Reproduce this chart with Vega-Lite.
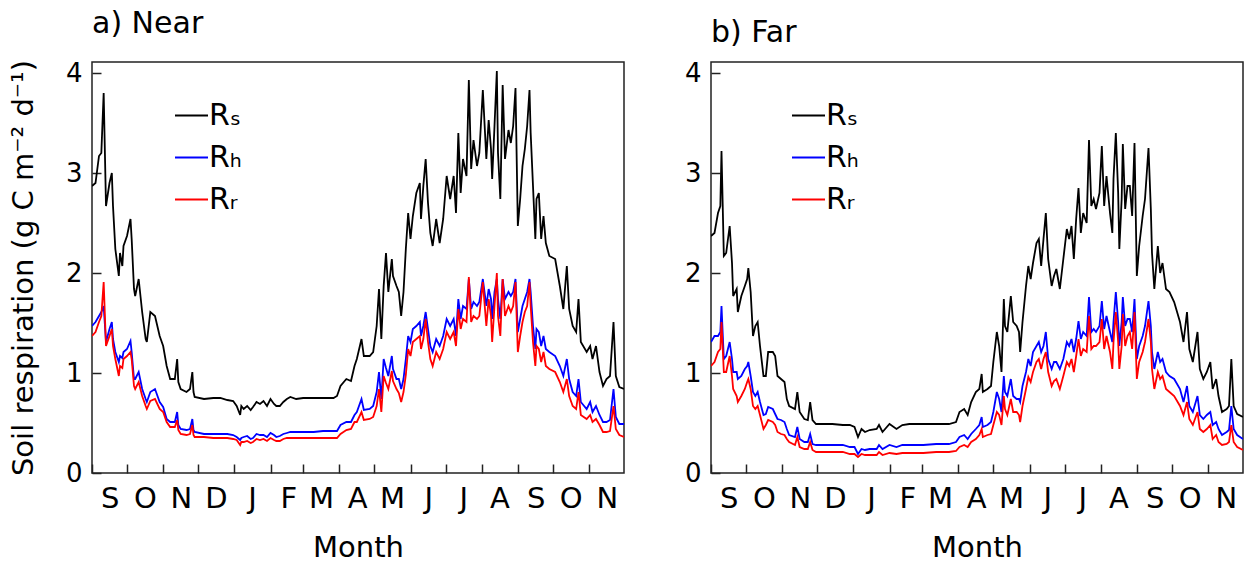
{
"$schema": "https://vega.github.io/schema/vega-lite/v6.json",
"background": "white",
"padding": {"left": 8, "top": 8, "right": 5, "bottom": 0},
"data": {"values": [
{"p":"a","t":"2013-09-01","s":2.87,"h":1.47,"r":1.37},
{"p":"a","t":"2013-09-04","s":2.90,"h":1.51,"r":1.41},
{"p":"a","t":"2013-09-07","s":3.17,"h":1.57,"r":1.51},
{"p":"a","t":"2013-09-09","s":3.20,"h":1.61,"r":1.57},
{"p":"a","t":"2013-09-11","s":3.80,"h":1.67,"r":1.91},
{"p":"a","t":"2013-09-13","s":2.67,"h":1.31,"r":1.27},
{"p":"a","t":"2013-09-16","s":2.90,"h":1.44,"r":1.37},
{"p":"a","t":"2013-09-18","s":3.00,"h":1.51,"r":1.44},
{"p":"a","t":"2013-09-19","s":2.67,"h":1.34,"r":1.27},
{"p":"a","t":"2013-09-21","s":2.24,"h":1.21,"r":1.14},
{"p":"a","t":"2013-09-24","s":1.97,"h":1.11,"r":0.97},
{"p":"a","t":"2013-09-25","s":2.20,"h":1.17,"r":1.07},
{"p":"a","t":"2013-09-27","s":2.07,"h":1.15,"r":1.05},
{"p":"a","t":"2013-09-28","s":2.27,"h":1.21,"r":1.14},
{"p":"a","t":"2013-10-01","s":2.37,"h":1.24,"r":1.17},
{"p":"a","t":"2013-10-04","s":2.54,"h":1.32,"r":1.21},
{"p":"a","t":"2013-10-05","s":2.34,"h":1.21,"r":1.14},
{"p":"a","t":"2013-10-07","s":1.84,"h":0.94,"r":0.87},
{"p":"a","t":"2013-10-08","s":1.77,"h":0.94,"r":0.84},
{"p":"a","t":"2013-10-11","s":1.94,"h":1.01,"r":0.91},
{"p":"a","t":"2013-10-14","s":1.61,"h":0.84,"r":0.77},
{"p":"a","t":"2013-10-17","s":1.34,"h":0.74,"r":0.67},
{"p":"a","t":"2013-10-18","s":1.31,"h":0.71,"r":0.64},
{"p":"a","t":"2013-10-21","s":1.61,"h":0.81,"r":0.72},
{"p":"a","t":"2013-10-25","s":1.57,"h":0.84,"r":0.74},
{"p":"a","t":"2013-10-29","s":1.37,"h":0.71,"r":0.64},
{"p":"a","t":"2013-11-01","s":1.27,"h":0.66,"r":0.61},
{"p":"a","t":"2013-11-04","s":1.07,"h":0.54,"r":0.51},
{"p":"a","t":"2013-11-07","s":0.94,"h":0.51,"r":0.46},
{"p":"a","t":"2013-11-11","s":0.94,"h":0.51,"r":0.46},
{"p":"a","t":"2013-11-13","s":1.14,"h":0.61,"r":0.53},
{"p":"a","t":"2013-11-14","s":0.91,"h":0.48,"r":0.43},
{"p":"a","t":"2013-11-16","s":0.84,"h":0.44,"r":0.39},
{"p":"a","t":"2013-11-21","s":0.81,"h":0.43,"r":0.38},
{"p":"a","t":"2013-11-24","s":0.84,"h":0.44,"r":0.39},
{"p":"a","t":"2013-11-26","s":1.01,"h":0.54,"r":0.48},
{"p":"a","t":"2013-11-27","s":0.81,"h":0.43,"r":0.38},
{"p":"a","t":"2013-11-28","s":0.76,"h":0.41,"r":0.36},
{"p":"a","t":"2013-12-06","s":0.74,"h":0.39,"r":0.36},
{"p":"a","t":"2013-12-14","s":0.75,"h":0.39,"r":0.35},
{"p":"a","t":"2013-12-20","s":0.75,"h":0.39,"r":0.35},
{"p":"a","t":"2013-12-26","s":0.73,"h":0.39,"r":0.35},
{"p":"a","t":"2013-12-31","s":0.72,"h":0.38,"r":0.34},
{"p":"a","t":"2014-01-03","s":0.67,"h":0.36,"r":0.33},
{"p":"a","t":"2014-01-06","s":0.58,"h":0.33,"r":0.28},
{"p":"a","t":"2014-01-07","s":0.67,"h":0.35,"r":0.31},
{"p":"a","t":"2014-01-09","s":0.64,"h":0.36,"r":0.31},
{"p":"a","t":"2014-01-12","s":0.67,"h":0.37,"r":0.32},
{"p":"a","t":"2014-01-15","s":0.63,"h":0.34,"r":0.30},
{"p":"a","t":"2014-01-17","s":0.66,"h":0.35,"r":0.31},
{"p":"a","t":"2014-01-20","s":0.71,"h":0.39,"r":0.34},
{"p":"a","t":"2014-01-23","s":0.69,"h":0.38,"r":0.33},
{"p":"a","t":"2014-01-26","s":0.72,"h":0.38,"r":0.34},
{"p":"a","t":"2014-01-29","s":0.67,"h":0.36,"r":0.32},
{"p":"a","t":"2014-02-01","s":0.74,"h":0.40,"r":0.35},
{"p":"a","t":"2014-02-04","s":0.69,"h":0.38,"r":0.33},
{"p":"a","t":"2014-02-06","s":0.67,"h":0.36,"r":0.32},
{"p":"a","t":"2014-02-09","s":0.67,"h":0.37,"r":0.32},
{"p":"a","t":"2014-02-12","s":0.71,"h":0.39,"r":0.34},
{"p":"a","t":"2014-02-15","s":0.74,"h":0.40,"r":0.35},
{"p":"a","t":"2014-02-18","s":0.76,"h":0.41,"r":0.35},
{"p":"a","t":"2014-02-23","s":0.74,"h":0.41,"r":0.35},
{"p":"a","t":"2014-03-01","s":0.75,"h":0.41,"r":0.35},
{"p":"a","t":"2014-03-10","s":0.75,"h":0.41,"r":0.35},
{"p":"a","t":"2014-03-18","s":0.75,"h":0.42,"r":0.35},
{"p":"a","t":"2014-03-27","s":0.75,"h":0.42,"r":0.35},
{"p":"a","t":"2014-03-30","s":0.77,"h":0.42,"r":0.35},
{"p":"a","t":"2014-04-02","s":0.87,"h":0.48,"r":0.39},
{"p":"a","t":"2014-04-07","s":0.94,"h":0.51,"r":0.43},
{"p":"a","t":"2014-04-11","s":0.92,"h":0.51,"r":0.44},
{"p":"a","t":"2014-04-14","s":1.07,"h":0.58,"r":0.51},
{"p":"a","t":"2014-04-16","s":1.14,"h":0.61,"r":0.51},
{"p":"a","t":"2014-04-20","s":1.34,"h":0.74,"r":0.61},
{"p":"a","t":"2014-04-22","s":1.17,"h":0.63,"r":0.53},
{"p":"a","t":"2014-04-27","s":1.17,"h":0.64,"r":0.54},
{"p":"a","t":"2014-04-30","s":1.21,"h":0.67,"r":0.56},
{"p":"a","t":"2014-05-03","s":1.47,"h":0.81,"r":0.67},
{"p":"a","t":"2014-05-05","s":1.84,"h":1.01,"r":0.84},
{"p":"a","t":"2014-05-07","s":1.34,"h":0.74,"r":0.61},
{"p":"a","t":"2014-05-09","s":1.87,"h":1.14,"r":0.97},
{"p":"a","t":"2014-05-11","s":2.20,"h":1.05,"r":0.90},
{"p":"a","t":"2014-05-13","s":1.81,"h":0.97,"r":0.84},
{"p":"a","t":"2014-05-16","s":2.14,"h":1.17,"r":1.02},
{"p":"a","t":"2014-05-17","s":1.97,"h":1.04,"r":0.92},
{"p":"a","t":"2014-05-20","s":1.87,"h":0.94,"r":0.84},
{"p":"a","t":"2014-05-22","s":1.81,"h":0.94,"r":0.80},
{"p":"a","t":"2014-05-24","s":1.57,"h":0.84,"r":0.71},
{"p":"a","t":"2014-05-26","s":1.81,"h":0.94,"r":0.81},
{"p":"a","t":"2014-05-28","s":2.24,"h":1.14,"r":0.98},
{"p":"a","t":"2014-05-30","s":2.60,"h":1.37,"r":1.24},
{"p":"a","t":"2014-06-01","s":2.34,"h":1.31,"r":1.17},
{"p":"a","t":"2014-06-03","s":2.57,"h":1.44,"r":1.31},
{"p":"a","t":"2014-06-06","s":2.80,"h":1.47,"r":1.34},
{"p":"a","t":"2014-06-09","s":2.90,"h":1.51,"r":1.37},
{"p":"a","t":"2014-06-10","s":2.54,"h":1.37,"r":1.24},
{"p":"a","t":"2014-06-12","s":2.87,"h":1.47,"r":1.34},
{"p":"a","t":"2014-06-14","s":3.14,"h":1.61,"r":1.54},
{"p":"a","t":"2014-06-16","s":2.70,"h":1.44,"r":1.31},
{"p":"a","t":"2014-06-18","s":2.40,"h":1.27,"r":1.14},
{"p":"a","t":"2014-06-20","s":2.27,"h":1.21,"r":1.07},
{"p":"a","t":"2014-06-23","s":2.54,"h":1.34,"r":1.21},
{"p":"a","t":"2014-06-26","s":2.30,"h":1.27,"r":1.14},
{"p":"a","t":"2014-06-29","s":2.54,"h":1.37,"r":1.24},
{"p":"a","t":"2014-07-02","s":2.97,"h":1.54,"r":1.41},
{"p":"a","t":"2014-07-05","s":2.74,"h":1.47,"r":1.34},
{"p":"a","t":"2014-07-08","s":2.97,"h":1.54,"r":1.41},
{"p":"a","t":"2014-07-10","s":2.60,"h":1.37,"r":1.27},
{"p":"a","t":"2014-07-12","s":3.40,"h":1.74,"r":1.64},
{"p":"a","t":"2014-07-14","s":2.80,"h":1.54,"r":1.44},
{"p":"a","t":"2014-07-16","s":3.14,"h":1.67,"r":1.54},
{"p":"a","t":"2014-07-19","s":2.97,"h":1.64,"r":1.51},
{"p":"a","t":"2014-07-21","s":3.93,"h":1.94,"r":1.96},
{"p":"a","t":"2014-07-23","s":3.04,"h":1.64,"r":1.51},
{"p":"a","t":"2014-07-25","s":3.33,"h":1.71,"r":1.57},
{"p":"a","t":"2014-07-28","s":3.07,"h":1.67,"r":1.54},
{"p":"a","t":"2014-07-30","s":3.20,"h":1.71,"r":1.57},
{"p":"a","t":"2014-08-02","s":3.83,"h":1.94,"r":1.91},
{"p":"a","t":"2014-08-05","s":3.14,"h":1.67,"r":1.47},
{"p":"a","t":"2014-08-07","s":3.53,"h":1.84,"r":1.74},
{"p":"a","t":"2014-08-09","s":3.24,"h":1.74,"r":1.57},
{"p":"a","t":"2014-08-10","s":2.94,"h":1.54,"r":1.31},
{"p":"a","t":"2014-08-12","s":3.47,"h":1.81,"r":1.67},
{"p":"a","t":"2014-08-14","s":4.02,"h":1.94,"r":2.00},
{"p":"a","t":"2014-08-15","s":3.20,"h":1.74,"r":1.57},
{"p":"a","t":"2014-08-17","s":2.74,"h":1.54,"r":1.37},
{"p":"a","t":"2014-08-19","s":3.88,"h":1.94,"r":1.94},
{"p":"a","t":"2014-08-21","s":3.14,"h":1.74,"r":1.57},
{"p":"a","t":"2014-08-24","s":3.43,"h":1.81,"r":1.67},
{"p":"a","t":"2014-08-26","s":3.30,"h":1.77,"r":1.61},
{"p":"a","t":"2014-08-28","s":3.47,"h":1.81,"r":1.67},
{"p":"a","t":"2014-08-30","s":3.85,"h":1.94,"r":1.91},
{"p":"a","t":"2014-09-01","s":2.47,"h":1.41,"r":1.21},
{"p":"a","t":"2014-09-03","s":2.74,"h":1.54,"r":1.37},
{"p":"a","t":"2014-09-05","s":3.07,"h":1.67,"r":1.51},
{"p":"a","t":"2014-09-07","s":3.24,"h":1.74,"r":1.61},
{"p":"a","t":"2014-09-09","s":3.47,"h":1.81,"r":1.67},
{"p":"a","t":"2014-09-11","s":3.83,"h":1.94,"r":1.91},
{"p":"a","t":"2014-09-12","s":3.40,"h":1.81,"r":1.67},
{"p":"a","t":"2014-09-14","s":2.87,"h":1.47,"r":1.31},
{"p":"a","t":"2014-09-16","s":2.34,"h":1.24,"r":1.07},
{"p":"a","t":"2014-09-17","s":2.74,"h":1.44,"r":1.27},
{"p":"a","t":"2014-09-19","s":2.80,"h":1.41,"r":1.24},
{"p":"a","t":"2014-09-21","s":2.34,"h":1.27,"r":1.11},
{"p":"a","t":"2014-09-23","s":2.57,"h":1.37,"r":1.21},
{"p":"a","t":"2014-09-25","s":2.30,"h":1.24,"r":1.07},
{"p":"a","t":"2014-09-28","s":2.17,"h":1.21,"r":1.04},
{"p":"a","t":"2014-10-03","s":2.14,"h":1.17,"r":1.01},
{"p":"a","t":"2014-10-07","s":1.87,"h":1.07,"r":0.91},
{"p":"a","t":"2014-10-10","s":1.64,"h":0.97,"r":0.81},
{"p":"a","t":"2014-10-13","s":2.07,"h":1.14,"r":0.94},
{"p":"a","t":"2014-10-15","s":1.64,"h":0.94,"r":0.77},
{"p":"a","t":"2014-10-18","s":1.47,"h":0.81,"r":0.67},
{"p":"a","t":"2014-10-21","s":1.41,"h":0.77,"r":0.64},
{"p":"a","t":"2014-10-23","s":1.74,"h":0.94,"r":0.81},
{"p":"a","t":"2014-10-25","s":1.31,"h":0.71,"r":0.58},
{"p":"a","t":"2014-10-30","s":1.21,"h":0.64,"r":0.54},
{"p":"a","t":"2014-11-02","s":1.27,"h":0.71,"r":0.58},
{"p":"a","t":"2014-11-04","s":1.14,"h":0.61,"r":0.51},
{"p":"a","t":"2014-11-07","s":1.27,"h":0.67,"r":0.54},
{"p":"a","t":"2014-11-10","s":1.01,"h":0.58,"r":0.48},
{"p":"a","t":"2014-11-13","s":0.87,"h":0.51,"r":0.41},
{"p":"a","t":"2014-11-16","s":0.94,"h":0.51,"r":0.41},
{"p":"a","t":"2014-11-19","s":0.97,"h":0.53,"r":0.42},
{"p":"a","t":"2014-11-22","s":1.51,"h":0.84,"r":0.67},
{"p":"a","t":"2014-11-24","s":0.97,"h":0.56,"r":0.44},
{"p":"a","t":"2014-11-27","s":0.86,"h":0.49,"r":0.38},
{"p":"a","t":"2014-12-01","s":0.84,"h":0.49,"r":0.36},
{"p":"b","t":"2013-09-01","s":2.37,"h":1.31,"r":1.07},
{"p":"b","t":"2013-09-04","s":2.40,"h":1.37,"r":1.11},
{"p":"b","t":"2013-09-07","s":2.60,"h":1.37,"r":1.21},
{"p":"b","t":"2013-09-09","s":2.67,"h":1.41,"r":1.24},
{"p":"b","t":"2013-09-10","s":3.22,"h":1.67,"r":1.51},
{"p":"b","t":"2013-09-12","s":2.17,"h":1.14,"r":1.01},
{"p":"b","t":"2013-09-14","s":2.20,"h":1.17,"r":1.01},
{"p":"b","t":"2013-09-17","s":2.47,"h":1.31,"r":1.17},
{"p":"b","t":"2013-09-19","s":2.10,"h":1.14,"r":0.97},
{"p":"b","t":"2013-09-20","s":1.77,"h":1.01,"r":0.84},
{"p":"b","t":"2013-09-23","s":1.84,"h":1.01,"r":0.77},
{"p":"b","t":"2013-09-24","s":1.61,"h":0.94,"r":0.71},
{"p":"b","t":"2013-09-27","s":1.77,"h":0.97,"r":0.77},
{"p":"b","t":"2013-09-30","s":1.87,"h":1.04,"r":0.84},
{"p":"b","t":"2013-10-02","s":1.94,"h":1.07,"r":0.91},
{"p":"b","t":"2013-10-03","s":2.05,"h":1.11,"r":0.94},
{"p":"b","t":"2013-10-05","s":1.81,"h":0.97,"r":0.84},
{"p":"b","t":"2013-10-07","s":1.37,"h":0.81,"r":0.67},
{"p":"b","t":"2013-10-09","s":1.47,"h":0.77,"r":0.64},
{"p":"b","t":"2013-10-11","s":1.51,"h":0.81,"r":0.67},
{"p":"b","t":"2013-10-13","s":1.27,"h":0.71,"r":0.58},
{"p":"b","t":"2013-10-16","s":0.97,"h":0.58,"r":0.44},
{"p":"b","t":"2013-10-18","s":0.97,"h":0.59,"r":0.48},
{"p":"b","t":"2013-10-20","s":1.21,"h":0.66,"r":0.53},
{"p":"b","t":"2013-10-24","s":1.21,"h":0.64,"r":0.51},
{"p":"b","t":"2013-10-26","s":1.17,"h":0.59,"r":0.48},
{"p":"b","t":"2013-10-28","s":0.97,"h":0.54,"r":0.41},
{"p":"b","t":"2013-10-31","s":0.94,"h":0.53,"r":0.39},
{"p":"b","t":"2013-11-03","s":0.91,"h":0.51,"r":0.38},
{"p":"b","t":"2013-11-05","s":0.74,"h":0.44,"r":0.34},
{"p":"b","t":"2013-11-07","s":0.67,"h":0.38,"r":0.31},
{"p":"b","t":"2013-11-12","s":0.64,"h":0.36,"r":0.28},
{"p":"b","t":"2013-11-14","s":0.81,"h":0.46,"r":0.36},
{"p":"b","t":"2013-11-16","s":0.61,"h":0.34,"r":0.26},
{"p":"b","t":"2013-11-20","s":0.54,"h":0.31,"r":0.24},
{"p":"b","t":"2013-11-23","s":0.53,"h":0.31,"r":0.24},
{"p":"b","t":"2013-11-25","s":0.71,"h":0.39,"r":0.31},
{"p":"b","t":"2013-11-27","s":0.53,"h":0.29,"r":0.23},
{"p":"b","t":"2013-11-30","s":0.49,"h":0.28,"r":0.21},
{"p":"b","t":"2013-12-14","s":0.49,"h":0.28,"r":0.21},
{"p":"b","t":"2013-12-23","s":0.48,"h":0.28,"r":0.21},
{"p":"b","t":"2013-12-29","s":0.48,"h":0.26,"r":0.19},
{"p":"b","t":"2014-01-02","s":0.46,"h":0.26,"r":0.19},
{"p":"b","t":"2014-01-05","s":0.36,"h":0.19,"r":0.16},
{"p":"b","t":"2014-01-08","s":0.44,"h":0.24,"r":0.19},
{"p":"b","t":"2014-01-11","s":0.41,"h":0.23,"r":0.18},
{"p":"b","t":"2014-01-15","s":0.43,"h":0.24,"r":0.18},
{"p":"b","t":"2014-01-21","s":0.44,"h":0.24,"r":0.18},
{"p":"b","t":"2014-01-23","s":0.48,"h":0.28,"r":0.21},
{"p":"b","t":"2014-01-26","s":0.41,"h":0.24,"r":0.18},
{"p":"b","t":"2014-02-01","s":0.49,"h":0.28,"r":0.20},
{"p":"b","t":"2014-02-07","s":0.44,"h":0.26,"r":0.19},
{"p":"b","t":"2014-02-12","s":0.48,"h":0.28,"r":0.20},
{"p":"b","t":"2014-02-18","s":0.49,"h":0.28,"r":0.20},
{"p":"b","t":"2014-03-02","s":0.49,"h":0.28,"r":0.20},
{"p":"b","t":"2014-03-13","s":0.49,"h":0.29,"r":0.21},
{"p":"b","t":"2014-03-24","s":0.49,"h":0.29,"r":0.21},
{"p":"b","t":"2014-03-30","s":0.51,"h":0.31,"r":0.22},
{"p":"b","t":"2014-04-02","s":0.61,"h":0.36,"r":0.26},
{"p":"b","t":"2014-04-06","s":0.64,"h":0.38,"r":0.28},
{"p":"b","t":"2014-04-09","s":0.58,"h":0.34,"r":0.26},
{"p":"b","t":"2014-04-12","s":0.71,"h":0.39,"r":0.31},
{"p":"b","t":"2014-04-16","s":0.81,"h":0.44,"r":0.34},
{"p":"b","t":"2014-04-19","s":0.84,"h":0.48,"r":0.38},
{"p":"b","t":"2014-04-21","s":0.99,"h":0.56,"r":0.44},
{"p":"b","t":"2014-04-22","s":0.81,"h":0.46,"r":0.36},
{"p":"b","t":"2014-04-26","s":0.84,"h":0.48,"r":0.38},
{"p":"b","t":"2014-04-29","s":0.87,"h":0.51,"r":0.39},
{"p":"b","t":"2014-05-01","s":1.11,"h":0.61,"r":0.48},
{"p":"b","t":"2014-05-04","s":1.41,"h":0.81,"r":0.61},
{"p":"b","t":"2014-05-06","s":1.27,"h":0.74,"r":0.58},
{"p":"b","t":"2014-05-08","s":1.01,"h":0.61,"r":0.48},
{"p":"b","t":"2014-05-10","s":1.74,"h":0.97,"r":0.77},
{"p":"b","t":"2014-05-11","s":1.47,"h":0.81,"r":0.64},
{"p":"b","t":"2014-05-13","s":1.41,"h":0.77,"r":0.58},
{"p":"b","t":"2014-05-16","s":1.77,"h":0.94,"r":0.74},
{"p":"b","t":"2014-05-18","s":1.51,"h":0.77,"r":0.61},
{"p":"b","t":"2014-05-21","s":1.47,"h":0.74,"r":0.61},
{"p":"b","t":"2014-05-23","s":1.41,"h":0.74,"r":0.58},
{"p":"b","t":"2014-05-24","s":1.21,"h":0.71,"r":0.51},
{"p":"b","t":"2014-05-26","s":1.51,"h":0.87,"r":0.67},
{"p":"b","t":"2014-05-29","s":1.87,"h":1.01,"r":0.84},
{"p":"b","t":"2014-05-31","s":2.07,"h":1.14,"r":0.96},
{"p":"b","t":"2014-06-02","s":1.94,"h":1.07,"r":0.91},
{"p":"b","t":"2014-06-04","s":2.10,"h":1.21,"r":1.01},
{"p":"b","t":"2014-06-07","s":2.30,"h":1.27,"r":1.11},
{"p":"b","t":"2014-06-09","s":2.34,"h":1.31,"r":1.14},
{"p":"b","t":"2014-06-11","s":2.07,"h":1.21,"r":1.04},
{"p":"b","t":"2014-06-13","s":2.34,"h":1.27,"r":1.14},
{"p":"b","t":"2014-06-15","s":2.60,"h":1.41,"r":1.21},
{"p":"b","t":"2014-06-17","s":2.14,"h":1.14,"r":1.01},
{"p":"b","t":"2014-06-20","s":1.87,"h":1.04,"r":0.87},
{"p":"b","t":"2014-06-22","s":1.97,"h":1.11,"r":0.92},
{"p":"b","t":"2014-06-24","s":2.04,"h":1.11,"r":0.94},
{"p":"b","t":"2014-06-27","s":1.84,"h":1.04,"r":0.84},
{"p":"b","t":"2014-06-30","s":2.14,"h":1.14,"r":0.97},
{"p":"b","t":"2014-07-03","s":2.44,"h":1.31,"r":1.11},
{"p":"b","t":"2014-07-05","s":2.34,"h":1.27,"r":1.07},
{"p":"b","t":"2014-07-07","s":2.47,"h":1.34,"r":1.14},
{"p":"b","t":"2014-07-09","s":2.14,"h":1.21,"r":1.01},
{"p":"b","t":"2014-07-11","s":2.54,"h":1.34,"r":1.17},
{"p":"b","t":"2014-07-13","s":2.85,"h":1.52,"r":1.34},
{"p":"b","t":"2014-07-15","s":2.40,"h":1.34,"r":1.17},
{"p":"b","t":"2014-07-17","s":2.60,"h":1.41,"r":1.24},
{"p":"b","t":"2014-07-20","s":2.50,"h":1.37,"r":1.21},
{"p":"b","t":"2014-07-22","s":3.33,"h":1.76,"r":1.57},
{"p":"b","t":"2014-07-24","s":2.67,"h":1.41,"r":1.24},
{"p":"b","t":"2014-07-26","s":2.74,"h":1.44,"r":1.27},
{"p":"b","t":"2014-07-28","s":2.64,"h":1.41,"r":1.27},
{"p":"b","t":"2014-07-31","s":2.80,"h":1.47,"r":1.31},
{"p":"b","t":"2014-08-02","s":3.27,"h":1.72,"r":1.54},
{"p":"b","t":"2014-08-04","s":2.67,"h":1.44,"r":1.24},
{"p":"b","t":"2014-08-06","s":2.97,"h":1.57,"r":1.37},
{"p":"b","t":"2014-08-09","s":2.60,"h":1.41,"r":1.21},
{"p":"b","t":"2014-08-11","s":2.40,"h":1.31,"r":1.04},
{"p":"b","t":"2014-08-12","s":2.94,"h":1.51,"r":1.31},
{"p":"b","t":"2014-08-14","s":3.40,"h":1.81,"r":1.61},
{"p":"b","t":"2014-08-16","s":2.80,"h":1.51,"r":1.31},
{"p":"b","t":"2014-08-17","s":2.24,"h":1.27,"r":1.04},
{"p":"b","t":"2014-08-19","s":2.74,"h":1.51,"r":1.27},
{"p":"b","t":"2014-08-20","s":3.29,"h":1.76,"r":1.59},
{"p":"b","t":"2014-08-22","s":2.64,"h":1.47,"r":1.27},
{"p":"b","t":"2014-08-24","s":2.87,"h":1.54,"r":1.37},
{"p":"b","t":"2014-08-26","s":2.87,"h":1.54,"r":1.41},
{"p":"b","t":"2014-08-28","s":2.57,"h":1.41,"r":1.24},
{"p":"b","t":"2014-08-30","s":3.30,"h":1.74,"r":1.61},
{"p":"b","t":"2014-09-01","s":1.97,"h":1.14,"r":0.94},
{"p":"b","t":"2014-09-03","s":2.27,"h":1.27,"r":1.11},
{"p":"b","t":"2014-09-06","s":2.57,"h":1.37,"r":1.21},
{"p":"b","t":"2014-09-08","s":2.74,"h":1.47,"r":1.31},
{"p":"b","t":"2014-09-11","s":3.25,"h":1.72,"r":1.54},
{"p":"b","t":"2014-09-13","s":2.64,"h":1.47,"r":1.31},
{"p":"b","t":"2014-09-14","s":2.20,"h":1.21,"r":1.04},
{"p":"b","t":"2014-09-16","s":1.84,"h":1.04,"r":0.84},
{"p":"b","t":"2014-09-19","s":2.27,"h":1.21,"r":1.01},
{"p":"b","t":"2014-09-21","s":2.00,"h":1.11,"r":0.94},
{"p":"b","t":"2014-09-23","s":2.10,"h":1.14,"r":0.97},
{"p":"b","t":"2014-09-26","s":1.84,"h":1.01,"r":0.84},
{"p":"b","t":"2014-09-29","s":1.81,"h":0.97,"r":0.81},
{"p":"b","t":"2014-10-03","s":1.71,"h":0.94,"r":0.77},
{"p":"b","t":"2014-10-08","s":1.51,"h":0.84,"r":0.67},
{"p":"b","t":"2014-10-11","s":1.31,"h":0.71,"r":0.58},
{"p":"b","t":"2014-10-14","s":1.61,"h":0.87,"r":0.71},
{"p":"b","t":"2014-10-16","s":1.24,"h":0.67,"r":0.54},
{"p":"b","t":"2014-10-19","s":1.11,"h":0.61,"r":0.48},
{"p":"b","t":"2014-10-23","s":1.41,"h":0.77,"r":0.61},
{"p":"b","t":"2014-10-25","s":1.04,"h":0.58,"r":0.44},
{"p":"b","t":"2014-10-28","s":0.94,"h":0.54,"r":0.41},
{"p":"b","t":"2014-10-31","s":1.01,"h":0.58,"r":0.44},
{"p":"b","t":"2014-11-03","s":1.11,"h":0.61,"r":0.48},
{"p":"b","t":"2014-11-05","s":0.84,"h":0.48,"r":0.34},
{"p":"b","t":"2014-11-08","s":0.94,"h":0.51,"r":0.38},
{"p":"b","t":"2014-11-10","s":0.77,"h":0.44,"r":0.31},
{"p":"b","t":"2014-11-13","s":0.61,"h":0.38,"r":0.28},
{"p":"b","t":"2014-11-17","s":0.64,"h":0.41,"r":0.29},
{"p":"b","t":"2014-11-19","s":0.67,"h":0.43,"r":0.31},
{"p":"b","t":"2014-11-21","s":1.14,"h":0.67,"r":0.48},
{"p":"b","t":"2014-11-23","s":0.67,"h":0.44,"r":0.31},
{"p":"b","t":"2014-11-26","s":0.59,"h":0.38,"r":0.26},
{"p":"b","t":"2014-12-01","s":0.56,"h":0.34,"r":0.23}
]},
"bounds": "flush",
"spacing": 87,
"resolve": {"legend": {"color": "independent"}},
"hconcat": [
{
"title": {"text": "a) Near", "offset": 20},
"width": 532, "height": 411,
"transform": [{"filter": "datum.p === 'a'"}, {"fold": ["s", "h", "r"], "as": ["k", "v"]}],
"mark": {"type": "line", "strokeWidth": 1.8, "clip": true},
"encoding": {
"x": {"field": "t", "type": "temporal", "title": "Month",
"scale": {"type": "utc", "domain": [{"year": 2013, "month": 9, "date": 1, "utc": true}, {"year": 2014, "month": 12, "date": 1, "utc": true}]},
"axis": {"values": [{"year":2013,"month":9,"date":1,"utc":true},{"year":2013,"month":10,"date":1,"utc":true},{"year":2013,"month":11,"date":1,"utc":true},{"year":2013,"month":12,"date":1,"utc":true},{"year":2014,"month":1,"date":1,"utc":true},{"year":2014,"month":2,"date":1,"utc":true},{"year":2014,"month":3,"date":1,"utc":true},{"year":2014,"month":4,"date":1,"utc":true},{"year":2014,"month":5,"date":1,"utc":true},{"year":2014,"month":6,"date":1,"utc":true},{"year":2014,"month":7,"date":1,"utc":true},{"year":2014,"month":8,"date":1,"utc":true},{"year":2014,"month":9,"date":1,"utc":true},{"year":2014,"month":10,"date":1,"utc":true},{"year":2014,"month":11,"date":1,"utc":true}],
"labelExpr": "substring(utcFormat(datum.value, '%b'), 0, 1)"}},
"y": {"field": "v", "type": "quantitative", "title": "Soil respiration (g C m\u207b\u00b2 d\u207b\u00b9)",
"scale": {"domain": [0, 4.11], "nice": false, "zero": true},
"axis": {"values": [0, 1, 2, 3, 4]}},
"color": {"field": "k", "type": "nominal",
"scale": {"domain": ["s", "h", "r"], "range": ["#000000", "#0000ff", "#ff0000"]},
"legend": {"title": null, "orient": "none", "legendX": 82, "legendY": 36,
"labelExpr": "datum.value === 's' ? 'R\u209b' : datum.value === 'h' ? 'R\u2095' : 'R\u1d63'"}}
}
},
{
"title": {"text": "b) Far", "offset": 12},
"width": 532, "height": 411,
"transform": [{"filter": "datum.p === 'b'"}, {"fold": ["s", "h", "r"], "as": ["k", "v"]}],
"mark": {"type": "line", "strokeWidth": 1.8, "clip": true},
"encoding": {
"x": {"field": "t", "type": "temporal", "title": "Month",
"scale": {"type": "utc", "domain": [{"year": 2013, "month": 9, "date": 1, "utc": true}, {"year": 2014, "month": 12, "date": 1, "utc": true}]},
"axis": {"values": [{"year":2013,"month":9,"date":1,"utc":true},{"year":2013,"month":10,"date":1,"utc":true},{"year":2013,"month":11,"date":1,"utc":true},{"year":2013,"month":12,"date":1,"utc":true},{"year":2014,"month":1,"date":1,"utc":true},{"year":2014,"month":2,"date":1,"utc":true},{"year":2014,"month":3,"date":1,"utc":true},{"year":2014,"month":4,"date":1,"utc":true},{"year":2014,"month":5,"date":1,"utc":true},{"year":2014,"month":6,"date":1,"utc":true},{"year":2014,"month":7,"date":1,"utc":true},{"year":2014,"month":8,"date":1,"utc":true},{"year":2014,"month":9,"date":1,"utc":true},{"year":2014,"month":10,"date":1,"utc":true},{"year":2014,"month":11,"date":1,"utc":true}],
"labelExpr": "substring(utcFormat(datum.value, '%b'), 0, 1)"}},
"y": {"field": "v", "type": "quantitative", "title": null,
"scale": {"domain": [0, 4.11], "nice": false, "zero": true},
"axis": {"values": [0, 1, 2, 3, 4]}},
"color": {"field": "k", "type": "nominal",
"scale": {"domain": ["s", "h", "r"], "range": ["#000000", "#0000ff", "#ff0000"]},
"legend": {"title": null, "orient": "none", "legendX": 80, "legendY": 36,
"labelExpr": "datum.value === 's' ? 'R\u209b' : datum.value === 'h' ? 'R\u2095' : 'R\u1d63'"}}
}
}
],
"config": {
"font": "DejaVu Sans",
"view": {"stroke": "#222222", "strokeWidth": 1.5},
"title": {"font": "DejaVu Sans", "fontSize": 30, "fontWeight": "normal", "anchor": "start", "frame": "group", "baseline": "alphabetic", "color": "#000000"},
"axis": {"labelFont": "DejaVu Sans", "titleFont": "DejaVu Sans", "labelColor": "#000000", "titleColor": "#000000", "titleFontWeight": "normal", "tickColor": "#222222", "tickWidth": 1.5, "tickSize": -9, "domain": false, "grid": false},
"axisX": {"labelFontSize": 29, "titleFontSize": 29, "labelPadding": 20, "titlePadding": 20, "labelFlush": false, "labelOverlap": false, "labelOffset": 17.8},
"axisY": {"labelFontSize": 26, "titleFontSize": 29, "labelPadding": 19, "titlePadding": 27},
"legend": {"symbolType": "stroke", "symbolSize": 1089, "symbolStrokeWidth": 1.8, "labelFont": "DejaVu Sans", "labelFontSize": 30, "labelColor": "#000000", "labelOffset": 0, "rowPadding": 9, "padding": 0}
}
}
